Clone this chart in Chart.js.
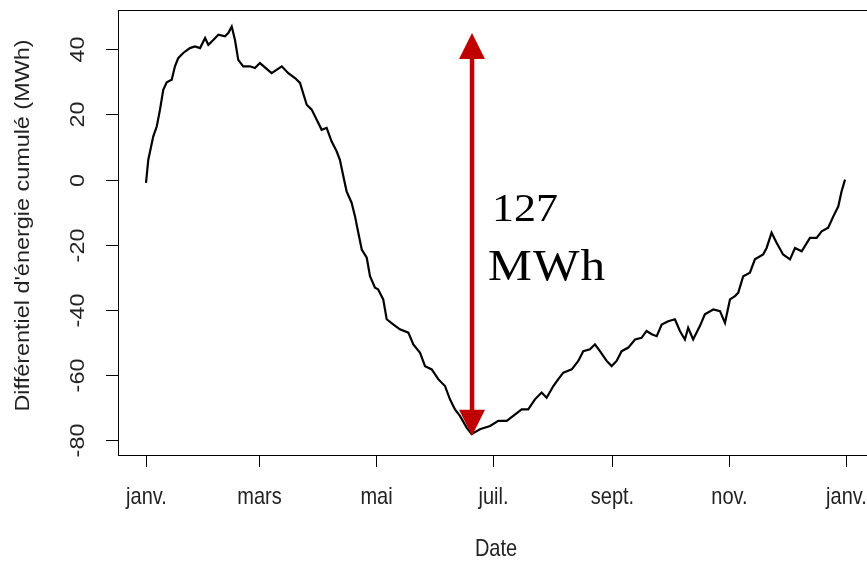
<!DOCTYPE html>
<html>
<head>
<meta charset="utf-8">
<script src="https://cdn.jsdelivr.net/npm/chart.js@4/dist/chart.umd.min.js"></script>
<style>
  html, body { margin: 0; padding: 0; background: #fff; overflow: hidden; }
</style>
</head>
<body>
<canvas id="chart" width="880" height="562"></canvas>
<script>
"use strict";

// day of year (0 = 1 janv.) and cumulated energy differential (MWh)
const days = [
  0, 1.2, 3.8, 5.6, 7.3, 9.0, 10.8, 13.4, 15.1, 16.8, 19.4, 22.9, 25.5, 28.2, 30.8, 32.5,
  35.1, 37.7, 41.2, 42.9, 44.7, 46.4, 48.1, 50.7, 54.2, 56.8, 59.4, 65.5, 70.8, 74.2, 77.7,
  80.3, 83.8, 86.4, 89.0, 91.6, 94.2, 96.8, 99.4, 101.1, 102.9, 104.6, 107.2, 109.0, 110.7,
  112.5, 115.1, 116.8, 119.4, 121.0, 123.7, 125.5, 128.9, 132.4, 136.8, 139.4, 142.9, 145.5,
  149.0, 152.4, 155.9, 158.5, 161.1, 163.7, 167.2, 169.8, 174.1, 179.4, 183.7, 188.1, 191.5,
  195.9, 199.3, 202.8, 206.3, 208.9, 212.4, 215.0, 217.6, 222.0, 225.4, 228.0, 231.5, 234.1,
  236.7, 240.2, 242.8, 245.4, 248.0, 251.5, 255.0, 258.4, 261.0, 263.7, 266.3, 268.9, 272.3,
  275.8, 278.4, 281.0, 282.7, 285.3, 288.8, 291.4, 295.8, 299.3, 301.9, 304.5, 307.1, 308.8,
  311.4, 314.9, 317.5, 321.8, 323.6, 326.2, 328.8, 332.2, 335.8, 338.4, 341.9, 346.2, 349.7,
  352.3, 355.7, 358.4, 361.0, 362.7, 364.5,
];
const energy = [
  -1.0, 6.1, 13.3, 16.3, 21.5, 27.6, 29.9, 30.7, 34.8, 37.3, 38.9, 40.4, 40.9, 40.4, 43.5, 41.4,
  42.9, 44.5, 44.0, 45.0, 47.0, 42.9, 36.8, 34.8, 34.8, 34.3, 35.8, 32.7, 34.8, 32.7, 31.2,
  29.7, 23.0, 21.5, 18.4, 15.3, 15.9, 11.7, 8.7, 6.1, 1.0, -3.6, -7.1, -11.3, -16.3,
  -21.5, -24.0, -29.7, -33.2, -33.7, -36.8, -42.9, -44.5, -46.0, -47.0, -50.6, -53.2, -57.3,
  -58.3, -61.3, -63.4, -67.5, -70.6, -72.6, -76.2, -78.2, -76.7, -75.7, -74.1, -74.1, -72.6,
  -70.6, -70.6, -67.5, -65.4, -67.0, -63.4, -61.3, -59.3, -58.3, -55.7, -52.7, -52.1, -50.6,
  -52.7, -55.7, -57.3, -55.7, -52.7, -51.6, -49.1, -48.6, -46.5, -47.5, -48.1, -44.5, -43.5,
  -42.9, -46.5, -49.1, -45.5, -49.1, -45.0, -41.4, -39.9, -40.4, -44.0, -36.8, -35.8, -34.8,
  -29.7, -28.6, -24.5, -23.0, -21.0, -16.3, -19.4, -23.0, -24.5, -21.0, -22.0, -17.9, -17.9,
  -15.9, -14.8, -11.3, -8.2, -3.6, 0,
];

const monthTicks = [0, 59, 120, 181, 243, 304, 365];
const monthLabels = ["janv.", "mars", "mai", "juil.", "sept.", "nov.", "janv."];
const energyTicks = [-80, -60, -40, -20, 0, 20, 40];

const xTitle = "Date";
const yTitle = "Différentiel d'énergie cumulé (MWh)";

// red double arrow between the max and the min
const arrowDay = 170;
const arrowLow = -78.7;
const arrowHigh = 45;
const arrowText = ["127", "MWh"];

const axisFont = '20px "Liberation Sans", Arial, sans-serif';
const textColor = "#222";
// the original picture is a bit taller than wide, text included
const stretch = 1.17;

/** @type {(ctx: CanvasRenderingContext2D, s: string, x: number, y: number) => void} */
const hText = (ctx, s, x, y) => {
  ctx.save();
  ctx.translate(x, y);
  ctx.scale(1, stretch);
  ctx.fillText(s, 0, 0);
  ctx.restore();
};

/** @type {(ctx: CanvasRenderingContext2D, s: string, x: number, y: number) => void} */
const vText = (ctx, s, x, y) => {
  ctx.save();
  ctx.translate(x, y);
  ctx.rotate(-Math.PI / 2);
  ctx.scale(stretch, 1);
  ctx.fillText(s, 0, 0);
  ctx.restore();
};

const rAxes = {
  id: "rAxes",
  afterDraw: (chart) => {
    const { ctx, chartArea: a } = chart;
    const { x, y } = chart.scales;
    ctx.save();
    ctx.strokeStyle = "#000";
    ctx.lineWidth = 1;
    ctx.strokeRect(a.left + 0.5, a.top + 0.5, a.right - a.left, a.bottom - a.top);

    ctx.fillStyle = textColor;
    ctx.font = axisFont;
    ctx.textAlign = "center";
    ctx.textBaseline = "middle";

    monthTicks.forEach((d, i) => {
      const px = Math.round(x.getPixelForValue(d)) + 0.5;
      ctx.beginPath();
      ctx.moveTo(px, a.bottom);
      ctx.lineTo(px, a.bottom + 12);
      ctx.stroke();
      hText(ctx, monthLabels[i], px, a.bottom + 43);
    });
    hText(ctx, xTitle, 496, a.bottom + 95);

    energyTicks.forEach((v) => {
      const py = Math.round(y.getPixelForValue(v)) + 0.5;
      ctx.beginPath();
      ctx.moveTo(a.left, py);
      ctx.lineTo(a.left - 12, py);
      ctx.stroke();
      vText(ctx, String(v), a.left - 40, py);
    });

    vText(ctx, yTitle, 23, (a.top + a.bottom) / 2 - 7);
    ctx.restore();
  },
};

const arrow = {
  id: "arrow",
  afterDatasetsDraw: (chart) => {
    const { ctx } = chart;
    const { x, y } = chart.scales;
    const px = x.getPixelForValue(arrowDay);
    const top = y.getPixelForValue(arrowHigh);
    const bottom = y.getPixelForValue(arrowLow);
    const head = 26;
    const half = 13;

    ctx.save();
    ctx.strokeStyle = "#c00000";
    ctx.fillStyle = "#c00000";
    ctx.lineWidth = 4.5;
    ctx.beginPath();
    ctx.moveTo(px, top + head - 2);
    ctx.lineTo(px, bottom - head + 2);
    ctx.stroke();

    ctx.beginPath();
    ctx.moveTo(px, top);
    ctx.lineTo(px - half, top + head);
    ctx.lineTo(px + half, top + head);
    ctx.closePath();
    ctx.fill();

    ctx.beginPath();
    ctx.moveTo(px, bottom);
    ctx.lineTo(px - half, bottom - head);
    ctx.lineTo(px + half, bottom - head);
    ctx.closePath();
    ctx.fill();

    const mid = (top + bottom) / 2;
    ctx.fillStyle = "#000";
    ctx.textAlign = "left";
    ctx.textBaseline = "alphabetic";

    ctx.save();
    ctx.translate(px + 20, mid - 13);
    ctx.scale(1.1, 1);
    ctx.font = '40px "Liberation Serif", "DejaVu Serif", serif';
    ctx.fillText(arrowText[0], 0, 0);
    ctx.restore();

    ctx.save();
    ctx.translate(px + 16, mid + 46);
    ctx.scale(1.12, 1);
    ctx.font = '44px "Liberation Serif", "DejaVu Serif", serif';
    ctx.letterSpacing = "1px";
    ctx.fillText(arrowText[1], 0, 0);
    ctx.restore();
    ctx.restore();
  },
};

const main = () => {
  const canvas = document.getElementById("chart");
  if (!(canvas instanceof HTMLCanvasElement)) throw new Error();

  new Chart(canvas, {
    type: "line",
    data: {
      datasets: [
        {
          data: days.map((d, i) => ({ x: d, y: energy[i] })),
          borderColor: "#000",
          borderWidth: 2.2,
          pointRadius: 0,
          tension: 0,
          fill: false,
        },
      ],
    },
    options: {
      responsive: false,
      animation: false,
      layout: { padding: { left: 118, right: 6, top: 10, bottom: 107 } },
      plugins: { legend: { display: false }, tooltip: { enabled: false } },
      scales: {
        x: { type: "linear", min: -14.6, max: 379.6, display: false },
        y: { type: "linear", min: -84.6, max: 52.1, display: false },
      },
    },
    plugins: [arrow, rAxes],
  });
};

main();
</script>
</body>
</html>
